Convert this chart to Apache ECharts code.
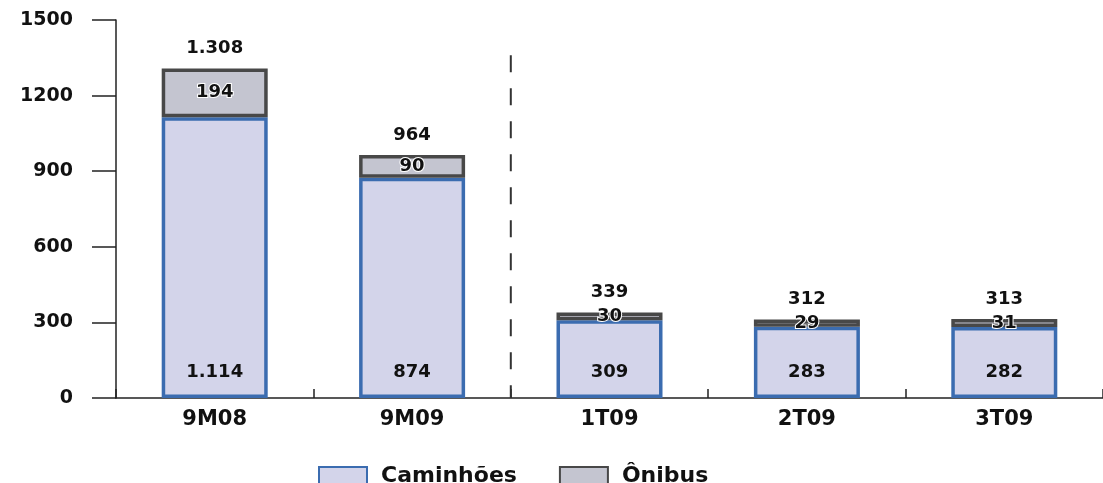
<!DOCTYPE html>
<html>
<head>
<meta charset="utf-8">
<script src="https://cdn.jsdelivr.net/npm/echarts@6/dist/echarts.min.js"></script>
<style>
html,body{margin:0;padding:0;background:#fff;}
#c{width:1103px;height:483px;}
</style>
</head>
<body>
<div id="c"></div>
<script>
var categories = ['9M08', '9M09', '1T09', '2T09', '3T09'];
var caminhoes = [1114, 874, 309, 283, 282];
var onibus = [194, 90, 30, 29, 31];
var totals = [1308, 964, 339, 312, 313];
var yTicks = [0, 300, 600, 900, 1200, 1500];
var dividerTopValue = 1360;

var FONT = 'DejaVu Sans';
function fmt(v) {
  return String(v).replace(/\B(?=(\d{3})+(?!\d))/g, '.');
}

var chart = echarts.init(document.getElementById('c'));
chart.setOption({
  animation: false,
  backgroundColor: '#ffffff',
  grid: { left: 116, top: 20, width: 995, height: 378, containLabel: false },
  legend: {
    data: ['Caminhões', 'Ônibus'],
    left: 313,
    top: 460,
    itemWidth: 48,
    itemHeight: 18,
    itemGap: 42,
    icon: 'rect',
    textStyle: { fontFamily: FONT, fontWeight: 'bold', fontSize: 22, color: '#111', padding: [0, 0, 0, 9] }
  },
  xAxis: {
    type: 'category',
    data: categories,
    axisLine: { lineStyle: { color: '#222', width: 1.5 } },
    axisTick: { show: true, inside: true, length: 9, alignWithLabel: false, lineStyle: { color: '#222', width: 1.5 } },
    axisLabel: { fontFamily: FONT, fontWeight: 'bold', fontSize: 21, color: '#111', margin: 11 }
  },
  yAxis: {
    type: 'value',
    min: yTicks[0],
    max: yTicks[yTicks.length - 1],
    interval: yTicks[1] - yTicks[0],
    splitLine: { show: false },
    axisLine: { show: true, lineStyle: { color: '#222', width: 1.5 } },
    axisTick: { show: true, length: 24, lineStyle: { color: '#222', width: 1.5 } },
    axisLabel: {
      fontFamily: FONT, fontWeight: 'bold', fontSize: 19, color: '#111', margin: 43,
      formatter: function (v) { return String(v); }
    }
  },
  series: [
    {
      name: 'Caminhões',
      type: 'bar',
      stack: 'total',
      barWidth: 106,
      data: caminhoes,
      itemStyle: { color: '#d3d4ea', borderColor: '#3b6cb0', borderWidth: 3.5 },
      label: {
        show: true, position: 'insideBottom', distance: 17,
        formatter: function (p) { return fmt(p.value); },
        fontFamily: FONT, fontWeight: 'bold', fontSize: 18, color: '#111'
      }
    },
    {
      name: 'Ônibus',
      type: 'bar',
      stack: 'total',
      barWidth: 106,
      data: onibus,
      itemStyle: { color: '#c4c5d0', borderColor: '#484848', borderWidth: 3.5 },
      label: {
        show: true, position: 'inside',
        formatter: function (p) { return fmt(p.value); },
        fontFamily: FONT, fontWeight: 'bold', fontSize: 18, color: '#111',
        textBorderColor: '#fff', textBorderWidth: 2
      }
    },
    {
      name: 'Total',
      type: 'bar',
      barWidth: 106,
      barGap: '-100%',
      data: totals,
      silent: true,
      z: 1,
      itemStyle: { color: 'rgba(0,0,0,0)', borderWidth: 0 },
      label: {
        show: true, position: 'top', distance: 11,
        formatter: function (p) { return fmt(p.value); },
        fontFamily: FONT, fontWeight: 'bold', fontSize: 18, color: '#111'
      }
    }
  ]
});

var x1 = chart.convertToPixel({ xAxisIndex: 0 }, 1);
var x2 = chart.convertToPixel({ xAxisIndex: 0 }, 2);
var xm = (x1 + x2) / 2;
var yTop = chart.convertToPixel({ yAxisIndex: 0 }, dividerTopValue);
var yBot = chart.convertToPixel({ yAxisIndex: 0 }, 0);
chart.setOption({
  graphic: [{
    type: 'line',
    shape: { x1: xm, y1: yTop, x2: xm, y2: yBot },
    style: { stroke: '#333', lineWidth: 2, lineDash: [17, 16] },
    z: 10
  }]
});
</script>
</body>
</html>
